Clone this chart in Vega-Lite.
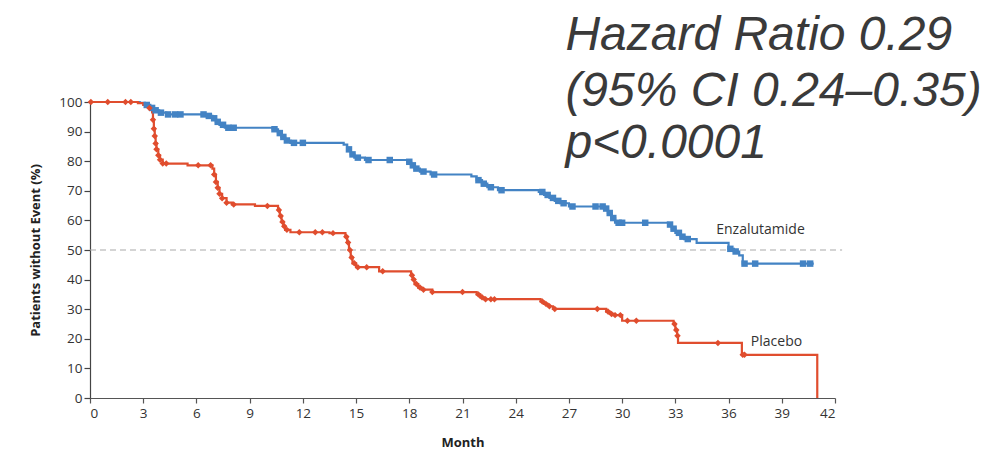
{
  "$schema": "https://vega.github.io/schema/vega-lite/v6.json",
  "autosize": "none",
  "width": 745,
  "height": 296,
  "padding": {"left": 90, "top": 102, "right": 170, "bottom": 54},
  "background": "white",
  "config": {
    "view": {"stroke": null},
    "font": "Open Sans",
    "axis": {"labelFont": "Open Sans", "labelFontSize": 13.5, "labelColor": "#333333", "titleFont": "Open Sans", "titleFontSize": 13, "titleFontWeight": "bold", "titleColor": "#222222", "grid": false, "tickColor": "#444444", "domainColor": "#444444", "domainWidth": 1.2, "tickWidth": 1.2}
  },
  "datasets": {
    "steps": [
      {"group": "Enzalutamide", "month": 0, "pct": 100}, {"group": "Enzalutamide", "month": 2.8, "pct": 99.7}, {"group": "Enzalutamide", "month": 3.1, "pct": 99}, {"group": "Enzalutamide", "month": 3.4, "pct": 98}, {"group": "Enzalutamide", "month": 3.6, "pct": 97.2}, {"group": "Enzalutamide", "month": 3.9, "pct": 96.4}, {"group": "Enzalutamide", "month": 4.3, "pct": 95.8}, {"group": "Enzalutamide", "month": 6.6, "pct": 95.3}, {"group": "Enzalutamide", "month": 6.9, "pct": 94.5}, {"group": "Enzalutamide", "month": 7.1, "pct": 93.3}, {"group": "Enzalutamide", "month": 7.3, "pct": 92.3}, {"group": "Enzalutamide", "month": 7.6, "pct": 91.3}, {"group": "Enzalutamide", "month": 10.3, "pct": 90.8}, {"group": "Enzalutamide", "month": 10.6, "pct": 89.5}, {"group": "Enzalutamide", "month": 10.8, "pct": 88.2}, {"group": "Enzalutamide", "month": 11.0, "pct": 87}, {"group": "Enzalutamide", "month": 11.3, "pct": 86.2}, {"group": "Enzalutamide", "month": 14.3, "pct": 85.6}, {"group": "Enzalutamide", "month": 14.5, "pct": 84}, {"group": "Enzalutamide", "month": 14.7, "pct": 82.3}, {"group": "Enzalutamide", "month": 14.9, "pct": 81.2}, {"group": "Enzalutamide", "month": 15.5, "pct": 80.4}, {"group": "Enzalutamide", "month": 17.9, "pct": 79.8}, {"group": "Enzalutamide", "month": 18.1, "pct": 78.6}, {"group": "Enzalutamide", "month": 18.3, "pct": 77.5}, {"group": "Enzalutamide", "month": 18.6, "pct": 76.5}, {"group": "Enzalutamide", "month": 19.2, "pct": 75.5}, {"group": "Enzalutamide", "month": 21.5, "pct": 74.9}, {"group": "Enzalutamide", "month": 21.8, "pct": 73.6}, {"group": "Enzalutamide", "month": 22.1, "pct": 72.4}, {"group": "Enzalutamide", "month": 22.4, "pct": 71.2}, {"group": "Enzalutamide", "month": 23.0, "pct": 70.2}, {"group": "Enzalutamide", "month": 25.3, "pct": 69.6}, {"group": "Enzalutamide", "month": 25.6, "pct": 68.6}, {"group": "Enzalutamide", "month": 25.9, "pct": 67.6}, {"group": "Enzalutamide", "month": 26.2, "pct": 66.6}, {"group": "Enzalutamide", "month": 26.5, "pct": 65.8}, {"group": "Enzalutamide", "month": 27.0, "pct": 64.7}, {"group": "Enzalutamide", "month": 29.0, "pct": 64.0}, {"group": "Enzalutamide", "month": 29.2, "pct": 62.5}, {"group": "Enzalutamide", "month": 29.4, "pct": 60.8}, {"group": "Enzalutamide", "month": 29.6, "pct": 59.2}, {"group": "Enzalutamide", "month": 32.6, "pct": 58.6}, {"group": "Enzalutamide", "month": 32.8, "pct": 57.2}, {"group": "Enzalutamide", "month": 33.0, "pct": 55.8}, {"group": "Enzalutamide", "month": 33.3, "pct": 54.5}, {"group": "Enzalutamide", "month": 33.5, "pct": 53.7}, {"group": "Enzalutamide", "month": 34.2, "pct": 52.4}, {"group": "Enzalutamide", "month": 36.0, "pct": 50.4}, {"group": "Enzalutamide", "month": 36.3, "pct": 49.5}, {"group": "Enzalutamide", "month": 36.6, "pct": 48.2}, {"group": "Enzalutamide", "month": 36.8, "pct": 45.4}, {"group": "Enzalutamide", "month": 40.8, "pct": 45.4},
      {"group": "Placebo", "month": 0, "pct": 100}, {"group": "Placebo", "month": 2.7, "pct": 99.6}, {"group": "Placebo", "month": 3.0, "pct": 99}, {"group": "Placebo", "month": 3.3, "pct": 98}, {"group": "Placebo", "month": 3.5, "pct": 96.5}, {"group": "Placebo", "month": 3.55, "pct": 94}, {"group": "Placebo", "month": 3.6, "pct": 91}, {"group": "Placebo", "month": 3.65, "pct": 88.5}, {"group": "Placebo", "month": 3.7, "pct": 86}, {"group": "Placebo", "month": 3.75, "pct": 84}, {"group": "Placebo", "month": 3.85, "pct": 82}, {"group": "Placebo", "month": 3.95, "pct": 80.5}, {"group": "Placebo", "month": 4.1, "pct": 79.2}, {"group": "Placebo", "month": 5.5, "pct": 78.6}, {"group": "Placebo", "month": 6.9, "pct": 77.5}, {"group": "Placebo", "month": 7.0, "pct": 75.5}, {"group": "Placebo", "month": 7.1, "pct": 73}, {"group": "Placebo", "month": 7.2, "pct": 71}, {"group": "Placebo", "month": 7.3, "pct": 69}, {"group": "Placebo", "month": 7.45, "pct": 67.5}, {"group": "Placebo", "month": 7.7, "pct": 66}, {"group": "Placebo", "month": 8.0, "pct": 65.4}, {"group": "Placebo", "month": 9.3, "pct": 64.9}, {"group": "Placebo", "month": 10.6, "pct": 63.5}, {"group": "Placebo", "month": 10.7, "pct": 61.5}, {"group": "Placebo", "month": 10.8, "pct": 59.5}, {"group": "Placebo", "month": 10.9, "pct": 58}, {"group": "Placebo", "month": 11.0, "pct": 56.8}, {"group": "Placebo", "month": 11.3, "pct": 56}, {"group": "Placebo", "month": 13.5, "pct": 55.7}, {"group": "Placebo", "month": 14.4, "pct": 54.5}, {"group": "Placebo", "month": 14.5, "pct": 52.5}, {"group": "Placebo", "month": 14.6, "pct": 50}, {"group": "Placebo", "month": 14.7, "pct": 47.5}, {"group": "Placebo", "month": 14.8, "pct": 45.5}, {"group": "Placebo", "month": 15.0, "pct": 44.2}, {"group": "Placebo", "month": 16.3, "pct": 42.8}, {"group": "Placebo", "month": 18.1, "pct": 41.5}, {"group": "Placebo", "month": 18.2, "pct": 40}, {"group": "Placebo", "month": 18.3, "pct": 38.5}, {"group": "Placebo", "month": 18.5, "pct": 37.3}, {"group": "Placebo", "month": 18.7, "pct": 36.6}, {"group": "Placebo", "month": 19.3, "pct": 35.8}, {"group": "Placebo", "month": 21.8, "pct": 35}, {"group": "Placebo", "month": 22.0, "pct": 34}, {"group": "Placebo", "month": 22.2, "pct": 33.4}, {"group": "Placebo", "month": 25.4, "pct": 32.6}, {"group": "Placebo", "month": 25.6, "pct": 31.8}, {"group": "Placebo", "month": 25.8, "pct": 31}, {"group": "Placebo", "month": 26.1, "pct": 30.1}, {"group": "Placebo", "month": 29.1, "pct": 29.2}, {"group": "Placebo", "month": 29.3, "pct": 28.4}, {"group": "Placebo", "month": 29.5, "pct": 28.0}, {"group": "Placebo", "month": 30.0, "pct": 26.1}, {"group": "Placebo", "month": 32.9, "pct": 25}, {"group": "Placebo", "month": 33.0, "pct": 23}, {"group": "Placebo", "month": 33.1, "pct": 21}, {"group": "Placebo", "month": 33.15, "pct": 18.6}, {"group": "Placebo", "month": 36.75, "pct": 14.6}, {"group": "Placebo", "month": 41.0, "pct": 0}
    ],
    "censor": [
      {"group": "Enzalutamide", "month": 3.2, "pct": 99}, {"group": "Enzalutamide", "month": 3.5, "pct": 98}, {"group": "Enzalutamide", "month": 3.7, "pct": 97.2}, {"group": "Enzalutamide", "month": 4.0, "pct": 96.4}, {"group": "Enzalutamide", "month": 4.4, "pct": 95.8}, {"group": "Enzalutamide", "month": 4.8, "pct": 95.8}, {"group": "Enzalutamide", "month": 5.1, "pct": 95.8}, {"group": "Enzalutamide", "month": 6.4, "pct": 95.8}, {"group": "Enzalutamide", "month": 6.7, "pct": 95.3}, {"group": "Enzalutamide", "month": 7.0, "pct": 94.5}, {"group": "Enzalutamide", "month": 7.2, "pct": 93.3}, {"group": "Enzalutamide", "month": 7.5, "pct": 92.3}, {"group": "Enzalutamide", "month": 7.8, "pct": 91.3}, {"group": "Enzalutamide", "month": 8.1, "pct": 91.3}, {"group": "Enzalutamide", "month": 10.4, "pct": 90.8}, {"group": "Enzalutamide", "month": 10.7, "pct": 89.5}, {"group": "Enzalutamide", "month": 10.9, "pct": 88.2}, {"group": "Enzalutamide", "month": 11.1, "pct": 87}, {"group": "Enzalutamide", "month": 11.5, "pct": 86.2}, {"group": "Enzalutamide", "month": 12.0, "pct": 86.2}, {"group": "Enzalutamide", "month": 14.6, "pct": 84}, {"group": "Enzalutamide", "month": 14.8, "pct": 82.3}, {"group": "Enzalutamide", "month": 15.1, "pct": 81.2}, {"group": "Enzalutamide", "month": 15.7, "pct": 80.4}, {"group": "Enzalutamide", "month": 16.9, "pct": 80.4}, {"group": "Enzalutamide", "month": 18.0, "pct": 79.8}, {"group": "Enzalutamide", "month": 18.2, "pct": 78.6}, {"group": "Enzalutamide", "month": 18.4, "pct": 77.5}, {"group": "Enzalutamide", "month": 18.8, "pct": 76.5}, {"group": "Enzalutamide", "month": 19.4, "pct": 75.5}, {"group": "Enzalutamide", "month": 21.9, "pct": 73.6}, {"group": "Enzalutamide", "month": 22.2, "pct": 72.4}, {"group": "Enzalutamide", "month": 22.6, "pct": 71.2}, {"group": "Enzalutamide", "month": 23.2, "pct": 70.2}, {"group": "Enzalutamide", "month": 25.5, "pct": 69.6}, {"group": "Enzalutamide", "month": 25.8, "pct": 68.6}, {"group": "Enzalutamide", "month": 26.1, "pct": 67.6}, {"group": "Enzalutamide", "month": 26.4, "pct": 66.6}, {"group": "Enzalutamide", "month": 26.7, "pct": 65.8}, {"group": "Enzalutamide", "month": 27.2, "pct": 64.7}, {"group": "Enzalutamide", "month": 28.5, "pct": 64.7}, {"group": "Enzalutamide", "month": 28.9, "pct": 64.7}, {"group": "Enzalutamide", "month": 29.1, "pct": 64.0}, {"group": "Enzalutamide", "month": 29.3, "pct": 62.5}, {"group": "Enzalutamide", "month": 29.5, "pct": 60.8}, {"group": "Enzalutamide", "month": 29.8, "pct": 59.2}, {"group": "Enzalutamide", "month": 30.0, "pct": 59.2}, {"group": "Enzalutamide", "month": 31.3, "pct": 59.2}, {"group": "Enzalutamide", "month": 32.7, "pct": 58.6}, {"group": "Enzalutamide", "month": 32.9, "pct": 57.2}, {"group": "Enzalutamide", "month": 33.2, "pct": 55.8}, {"group": "Enzalutamide", "month": 33.4, "pct": 54.5}, {"group": "Enzalutamide", "month": 33.7, "pct": 53.7}, {"group": "Enzalutamide", "month": 36.1, "pct": 50.4}, {"group": "Enzalutamide", "month": 36.4, "pct": 49.5}, {"group": "Enzalutamide", "month": 36.9, "pct": 45.4}, {"group": "Enzalutamide", "month": 37.5, "pct": 45.4}, {"group": "Enzalutamide", "month": 40.2, "pct": 45.4}, {"group": "Enzalutamide", "month": 40.6, "pct": 45.4},
      {"group": "Placebo", "month": 0.05, "pct": 100}, {"group": "Placebo", "month": 1.0, "pct": 100}, {"group": "Placebo", "month": 2.0, "pct": 100}, {"group": "Placebo", "month": 2.3, "pct": 100}, {"group": "Placebo", "month": 3.35, "pct": 98}, {"group": "Placebo", "month": 3.55, "pct": 94}, {"group": "Placebo", "month": 3.6, "pct": 91}, {"group": "Placebo", "month": 3.65, "pct": 88.5}, {"group": "Placebo", "month": 3.7, "pct": 86}, {"group": "Placebo", "month": 3.75, "pct": 84}, {"group": "Placebo", "month": 3.85, "pct": 82}, {"group": "Placebo", "month": 3.95, "pct": 80.5}, {"group": "Placebo", "month": 4.1, "pct": 79.2}, {"group": "Placebo", "month": 4.3, "pct": 79.2}, {"group": "Placebo", "month": 6.1, "pct": 78.6}, {"group": "Placebo", "month": 6.8, "pct": 78.6}, {"group": "Placebo", "month": 7.0, "pct": 75.5}, {"group": "Placebo", "month": 7.1, "pct": 73}, {"group": "Placebo", "month": 7.2, "pct": 71}, {"group": "Placebo", "month": 7.3, "pct": 69}, {"group": "Placebo", "month": 7.45, "pct": 67.5}, {"group": "Placebo", "month": 7.7, "pct": 66}, {"group": "Placebo", "month": 8.1, "pct": 65.4}, {"group": "Placebo", "month": 10.0, "pct": 64.9}, {"group": "Placebo", "month": 10.65, "pct": 63.5}, {"group": "Placebo", "month": 10.75, "pct": 61.5}, {"group": "Placebo", "month": 10.85, "pct": 59.5}, {"group": "Placebo", "month": 10.95, "pct": 58}, {"group": "Placebo", "month": 11.1, "pct": 56.8}, {"group": "Placebo", "month": 11.8, "pct": 56}, {"group": "Placebo", "month": 12.7, "pct": 56}, {"group": "Placebo", "month": 13.1, "pct": 56}, {"group": "Placebo", "month": 13.7, "pct": 55.7}, {"group": "Placebo", "month": 14.45, "pct": 54.5}, {"group": "Placebo", "month": 14.55, "pct": 52.5}, {"group": "Placebo", "month": 14.65, "pct": 50}, {"group": "Placebo", "month": 14.75, "pct": 47.5}, {"group": "Placebo", "month": 14.9, "pct": 45.5}, {"group": "Placebo", "month": 15.1, "pct": 44.2}, {"group": "Placebo", "month": 15.6, "pct": 44.2}, {"group": "Placebo", "month": 16.5, "pct": 42.8}, {"group": "Placebo", "month": 18.15, "pct": 41.5}, {"group": "Placebo", "month": 18.25, "pct": 40}, {"group": "Placebo", "month": 18.4, "pct": 38.5}, {"group": "Placebo", "month": 18.6, "pct": 37.3}, {"group": "Placebo", "month": 18.8, "pct": 36.6}, {"group": "Placebo", "month": 19.3, "pct": 35.8}, {"group": "Placebo", "month": 21.0, "pct": 35.8}, {"group": "Placebo", "month": 21.9, "pct": 35}, {"group": "Placebo", "month": 22.1, "pct": 34}, {"group": "Placebo", "month": 22.3, "pct": 33.4}, {"group": "Placebo", "month": 22.6, "pct": 33.4}, {"group": "Placebo", "month": 22.8, "pct": 33.4}, {"group": "Placebo", "month": 25.5, "pct": 32.6}, {"group": "Placebo", "month": 25.7, "pct": 31.8}, {"group": "Placebo", "month": 25.9, "pct": 31}, {"group": "Placebo", "month": 26.2, "pct": 30.1}, {"group": "Placebo", "month": 28.6, "pct": 30.1}, {"group": "Placebo", "month": 29.2, "pct": 29.2}, {"group": "Placebo", "month": 29.4, "pct": 28.4}, {"group": "Placebo", "month": 29.6, "pct": 28.0}, {"group": "Placebo", "month": 29.9, "pct": 28.0}, {"group": "Placebo", "month": 30.3, "pct": 26.1}, {"group": "Placebo", "month": 30.8, "pct": 26.1}, {"group": "Placebo", "month": 32.95, "pct": 25}, {"group": "Placebo", "month": 33.05, "pct": 23}, {"group": "Placebo", "month": 33.12, "pct": 21}, {"group": "Placebo", "month": 35.4, "pct": 18.6}, {"group": "Placebo", "month": 36.8, "pct": 14.6}, {"group": "Placebo", "month": 36.9, "pct": 14.6}
    ],
    "ref": [{"start": 0, "end": 42.4, "pct": 50}],
    "labels": [
      {"group": "Enzalutamide", "text": "Enzalutamide", "month": 37.8, "pct": 56.9},
      {"group": "Placebo", "text": "Placebo", "month": 38.7, "pct": 19.0}
    ],
    "notes": [
      {"text": "Hazard Ratio 0.29", "month": 26.8, "pct": 117.4},
      {"text": "(95% CI 0.24–0.35)", "month": 26.8, "pct": 98.8},
      {"text": "p<0.0001", "month": 26.8, "pct": 81.2}
    ]
  },
  "encoding": {
    "x": {"field": "month", "type": "quantitative", "scale": {"domain": [0, 42], "nice": false},
      "axis": {"title": "Month", "values": [0, 3, 6, 9, 12, 15, 18, 21, 24, 27, 30, 33, 36, 39, 42], "tickSize": 5, "labelPadding": 3, "titlePadding": 17, "domainColor": "#555555", "tickColor": "#555555"}},
    "y": {"field": "pct", "type": "quantitative", "scale": {"domain": [0, 100], "nice": false},
      "axis": {"title": "Patients without Event (%)", "values": [0, 10, 20, 30, 40, 50, 60, 70, 80, 90, 100], "tickSize": 6, "labelPadding": 2, "titlePadding": 16}}
  },
  "layer": [
    {
      "data": {"name": "ref"},
      "mark": {"type": "rule", "color": "#aaaaaa", "strokeDash": [6, 4], "strokeWidth": 1.2},
      "encoding": {"x": {"field": "start", "type": "quantitative"}, "x2": {"field": "end"}, "y": {"field": "pct", "type": "quantitative"}}
    },
    {
      "data": {"name": "steps"},
      "mark": {"type": "line", "interpolate": "step-after", "strokeWidth": 2.2},
      "encoding": {
        "color": {"field": "group", "type": "nominal", "scale": {"domain": ["Enzalutamide", "Placebo"], "range": ["#4383c4", "#e04d2e"]}, "legend": null}
      }
    },
    {
      "data": {"name": "censor"},
      "mark": {"type": "point", "filled": true, "opacity": 1, "size": 42},
      "encoding": {
        "color": {"field": "group", "type": "nominal", "scale": {"domain": ["Enzalutamide", "Placebo"], "range": ["#4383c4", "#e04d2e"]}, "legend": null},
        "shape": {"field": "group", "type": "nominal", "scale": {"domain": ["Enzalutamide", "Placebo"], "range": ["square", "diamond"]}, "legend": null}
      }
    },
    {
      "data": {"name": "labels"},
      "mark": {"type": "text", "font": "Open Sans", "fontSize": 14, "color": "#333333", "align": "center", "baseline": "middle"},
      "encoding": {"text": {"field": "text"}}
    },
    {
      "data": {"name": "notes"},
      "mark": {"type": "text", "font": "Liberation Sans", "fontStyle": "italic", "fontSize": 48, "color": "#3a3a3a", "align": "left", "baseline": "alphabetic"},
      "encoding": {"text": {"field": "text"}}
    }
  ]
}
